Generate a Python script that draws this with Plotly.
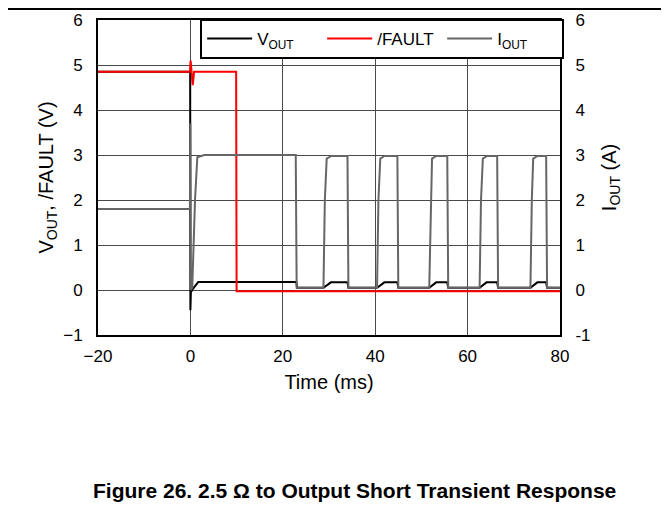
import plotly.graph_objects as go

# Time (ms) and values
t_vout = [-20, -0.05, 0.0, 0.1, 0.5, 1.2, 1.7, 22.9, 23.1, 28.8, 29.4, 30.4, 34.0, 34.2,
          40.4, 41.0, 42.0, 44.8, 45.0, 51.7, 52.3, 53.2, 55.6, 55.8, 62.6, 63.2, 64.1,
          66.4, 66.6, 73.6, 74.2, 75.1, 77.0, 77.2, 80]
vout = [4.85, 4.85, -0.45, -0.05, 0.02, 0.12, 0.18, 0.18, 0.05, 0.05, 0.1, 0.17, 0.17, 0.05,
        0.05, 0.1, 0.17, 0.17, 0.05, 0.05, 0.1, 0.17, 0.17, 0.05, 0.05, 0.1, 0.17,
        0.17, 0.05, 0.05, 0.1, 0.17, 0.17, 0.05, 0.05]

t_fault = [-20, -0.1, 0.05, 0.3, 0.5, 0.8, 9.9, 10.0, 80]
fault = [4.85, 4.85, 5.1, 4.8, 4.55, 4.85, 4.85, -0.03, -0.03]

t_iout = [-20, -0.1, 0.0, 0.1, 0.4, 1.0, 1.5, 3.0, 22.8, 23.0,
          28.8, 29.1, 29.5, 30.5, 34.0, 34.2,
          40.4, 40.7, 41.1, 42.0, 44.8, 45.0,
          51.7, 52.0, 52.3, 53.2, 55.6, 55.8,
          62.6, 62.9, 63.3, 64.2, 66.4, 66.6,
          73.6, 73.9, 74.2, 75.1, 77.0, 77.2, 80]
iout = [1.8, 1.8, 3.7, 0.0, 0.05, 2.0, 2.95, 3.0, 3.0, 0.05,
        0.05, 2.0, 2.92, 2.98, 2.98, 0.05,
        0.05, 2.0, 2.92, 2.98, 2.98, 0.05,
        0.05, 2.0, 2.92, 2.98, 2.98, 0.05,
        0.05, 2.0, 2.92, 2.98, 2.98, 0.05,
        0.05, 2.0, 2.92, 2.98, 2.98, 0.05, 0.05]

x_ticks = [-20, 0, 20, 40, 60, 80]
x_ticktext = ["\u221220", "0", "20", "40", "60", "80"]
y_ticks = [-1, 0, 1, 2, 3, 4, 5, 6]
y_ticktext = ["\u22121", "0", "1", "2", "3", "4", "5", "6"]
y2_ticktext = ["-1", "0", "1", "2", "3", "4", "5", "6"]

FONT = "Liberation Sans, Arial, sans-serif"

fig = go.Figure()
fig.add_trace(go.Scatter(x=t_vout, y=vout, mode="lines", name="V<sub>OUT</sub>",
                         line=dict(color="black", width=2), legendrank=1))
fig.add_trace(go.Scatter(x=t_fault, y=fault, mode="lines", name="/FAULT",
                         line=dict(color="#ff0000", width=2), legendrank=2))
fig.add_trace(go.Scatter(x=t_iout, y=iout, mode="lines", name="I<sub>OUT</sub>",
                         line=dict(color="#666666", width=2), yaxis="y2", legendrank=3))

# page body has an 8px margin, so the figure is laid out 8px up/left
fig.update_layout(
    width=669, height=521,
    margin=dict(l=90, r=117, t=12, b=194, autoexpand=False),
    paper_bgcolor="white", plot_bgcolor="white",
    font=dict(family=FONT, size=17, color="black"),
    xaxis=dict(
        range=[-20, 80], tickvals=x_ticks, ticktext=x_ticktext,
        showgrid=True, gridcolor="#4a4a4a", gridwidth=1,
        showline=True, linecolor="black", linewidth=2, mirror=True,
        zeroline=False, ticks="", ticklabelstandoff=5, automargin=False,
        title=dict(text="Time (ms)", standoff=10),
    ),
    yaxis=dict(
        range=[-1, 6], tickvals=y_ticks, ticktext=y_ticktext,
        showgrid=True, gridcolor="#4a4a4a", gridwidth=1,
        showline=True, linecolor="black", linewidth=2, mirror=True,
        zeroline=False, ticks="", ticklabelstandoff=10, automargin=False,
        title=dict(text="V<sub>OUT</sub>, /FAULT (V)", standoff=4),
    ),
    yaxis2=dict(
        range=[-1, 6], tickvals=y_ticks, ticktext=y2_ticktext,
        overlaying="y", side="right", showgrid=False, zeroline=False,
        showline=True, linecolor="black", linewidth=2, ticks="", ticklabelstandoff=10,
        automargin=False,
        title=dict(text="I<sub>OUT</sub> (A)", standoff=12),
    ),
    legend=dict(
        orientation="h", x=1.009, xanchor="right", y=1.003, yanchor="top",
        bgcolor="white", bordercolor="black", borderwidth=2,
        itemwidth=45, entrywidth=60, font=dict(size=17),
        tracegroupgap=0,
    ),
    showlegend=True,
)

# Outer page frame (top and right edges)
fig.add_shape(type="line", xref="paper", yref="paper", x0=-0.25, x1=1.2229, y0=1.0349, y1=1.0349,
              line=dict(color="black", width=2))
fig.add_shape(type="line", xref="paper", yref="paper", x0=1.2229, x1=1.2229, y0=1.0349, y1=-0.62,
              line=dict(color="black", width=2))

fig.add_annotation(
    text="<b>Figure 26. 2.5 \u03a9 to Output Short Transient Response</b>",
    xref="paper", yref="paper", x=0.556, y=-0.495, xanchor="center", yanchor="middle",
    showarrow=False, font=dict(family=FONT, size=21, color="black"),
)

fig.write_html("out.html")
